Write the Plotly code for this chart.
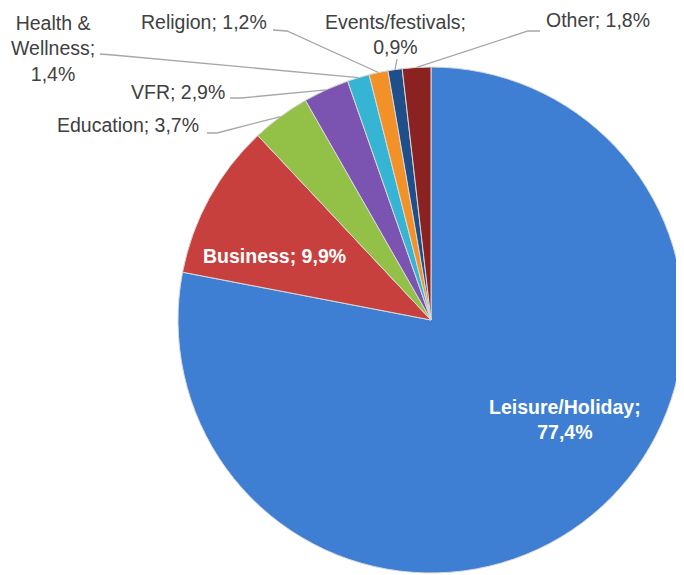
import math
import plotly.graph_objects as go

categories = ["Leisure/Holiday", "Business", "Education", "VFR", "Health & Wellness",
              "Religion", "Events/festivals", "Other"]
values = [77.4, 9.9, 3.7, 2.9, 1.4, 1.2, 0.9, 1.8]
label_texts = ["Leisure/Holiday;<br>77,4%", "Business; 9,9%", "Education; 3,7%", "VFR; 2,9%",
               "Health &<br>Wellness;<br>1,4%", "Religion; 1,2%", "Events/festivals;<br>0,9%",
               "Other; 1,8%"]
colors = ["#3F7FD3", "#C8403D", "#93C047", "#7B54B2", "#35B4D3", "#F39129", "#1F4E89", "#8A2222"]

# page has an 8px body margin; work in page pixels and convert
OFF = 8
W, H = 684 - OFF, 575 - OFF
CX, CY, R = 431, 320, 253


def fx(x):
    return (x - OFF) / W


def fy(y):
    return 1 - (y - OFF) / H


fig = go.Figure(go.Pie(
    labels=categories, values=values, sort=False, direction="clockwise", rotation=0,
    marker=dict(colors=colors, line=dict(color="#D9D9D9", width=1)),
    textinfo="none", hoverinfo="label+percent", showlegend=False,
    domain=dict(x=[fx(CX - R), min(1.0, fx(CX + R))],
                y=[fy(CY + R), fy(CY - R)]),
))

label_pos = {
    0: (565, 419), 1: (274, 256), 2: (128, 125), 3: (178, 92),
    4: (53, 48), 5: (204, 22), 6: (395, 34), 7: (598, 20),
}
elbows = {
    2: [(207, 133), (217, 133)],
    3: [(230, 98), (241, 98)],
    4: [(100, 54), (113, 55)],
    5: [(273, 30), (287, 31)],
    6: [(397, 59)],
    7: [(540, 31), (528, 31)],
}

total = sum(values)
cum = 0.0
shapes = []
annotations = []
for i, v in enumerate(values):
    mid = (cum + v / 2) / total * 2 * math.pi
    cum += v
    inside = i in (0, 1)
    x, y = label_pos[i]
    annotations.append(dict(
        x=fx(x), y=fy(y), xref="paper", yref="paper",
        text=("<b>" + label_texts[i] + "</b>" if inside else label_texts[i]),
        showarrow=False, xanchor="center", yanchor="middle",
        font=dict(family="Liberation Sans, Arial, sans-serif", size=19.5,
                  color="white" if inside else "#404040"),
    ))
    if i in elbows:
        ex = CX + R * math.sin(mid)
        ey = CY - R * math.cos(mid)
        pts = elbows[i] + [(ex, ey)]
        path = "M " + " L ".join(f"{fx(a)},{fy(b)}" for a, b in pts)
        shapes.append(dict(type="path", path=path, xref="paper", yref="paper",
                           line=dict(color="#A6A6A6", width=1.3)))

fig.update_layout(
    width=W, height=H, margin=dict(l=0, r=0, t=0, b=0),
    paper_bgcolor="white", plot_bgcolor="white",
    shapes=shapes, annotations=annotations,
)

fig.write_html("out.html")
